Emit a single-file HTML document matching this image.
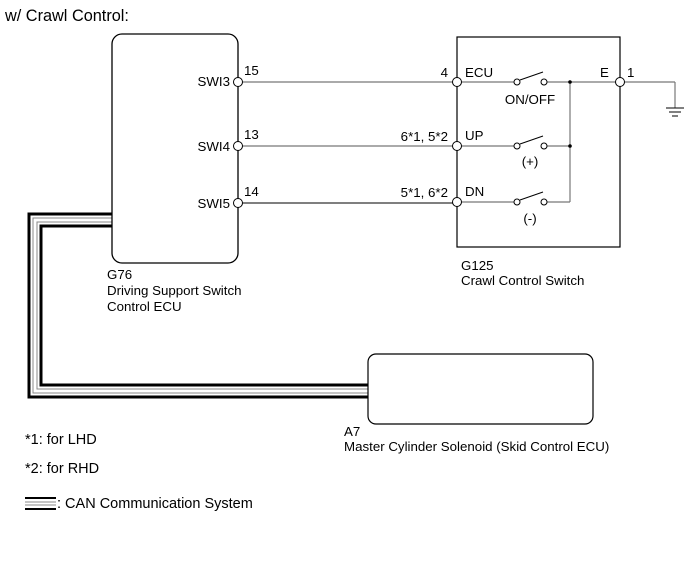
<!DOCTYPE html>
<html><head><meta charset="utf-8"><style>
body{margin:0;background:#fff}
svg{display:block}
text{font-family:"Liberation Sans",Arial,sans-serif;font-size:13.3px;fill:#000}
</style></head><body>
<svg width="691" height="564" viewBox="0 0 691 564" xmlns="http://www.w3.org/2000/svg">
<text x="5" y="21" style="font-size:16.3px">w/ Crawl Control:</text>
<!-- CAN bus -->
<g fill="none">
<path d="M112 214 H29 V397 H368" stroke="#000" stroke-width="3"/>
<path d="M112 218 H33 V393 H368" stroke="#888" stroke-width="1"/>
<path d="M112 222 H37 V389 H368" stroke="#888" stroke-width="1"/>
<path d="M112 226 H41 V385 H368" stroke="#000" stroke-width="3"/>
</g>
<!-- G76 -->
<rect x="112" y="34" width="126" height="229" rx="10" fill="#fff" stroke="#000" stroke-width="1.3"/>
<text x="230" y="86" text-anchor="end">SWI3</text>
<text x="230" y="151" text-anchor="end">SWI4</text>
<text x="230" y="208" text-anchor="end">SWI5</text>
<text x="107" y="279">G76</text>
<text x="107" y="295">Driving Support Switch</text>
<text x="107" y="311">Control ECU</text>
<!-- wires -->
<g stroke="#777" stroke-width="1.2">
<line x1="238" y1="82" x2="457" y2="82"/>
<line x1="238" y1="146" x2="457" y2="146"/>
<line x1="238" y1="203" x2="457" y2="203" stroke="#333"/>
</g>
<text x="244" y="75">15</text>
<text x="244" y="139">13</text>
<text x="244" y="196">14</text>
<text x="448" y="77" text-anchor="end">4</text>
<text x="448" y="141" text-anchor="end">6*1, 5*2</text>
<text x="448" y="197" text-anchor="end">5*1, 6*2</text>
<!-- G125 -->
<rect x="457" y="37" width="163" height="210" fill="none" stroke="#000" stroke-width="1.2"/>
<text x="465" y="77">ECU</text>
<text x="465" y="140">UP</text>
<text x="465" y="196">DN</text>
<text x="600" y="77">E</text>
<text x="627" y="77">1</text>
<g stroke="#777" stroke-width="1.2" fill="none">
<line x1="457" y1="82" x2="514" y2="82"/>
<line x1="547" y1="82" x2="620" y2="82"/>
<line x1="457" y1="146" x2="514" y2="146"/>
<line x1="547" y1="146" x2="570" y2="146"/>
<line x1="457" y1="202" x2="514" y2="202"/>
<line x1="547" y1="202" x2="570" y2="202"/>
<line x1="570" y1="82" x2="570" y2="202"/>
<line x1="620" y1="82" x2="675" y2="82"/>
<line x1="675" y1="82" x2="675" y2="108"/>
</g>
<g stroke="#000" stroke-width="1" fill="none">
<line x1="520" y1="80" x2="543" y2="72"/>
<line x1="520" y1="144" x2="543" y2="136"/>
<line x1="520" y1="200" x2="543" y2="192"/>
<line x1="666" y1="108" x2="684" y2="108"/>
<line x1="669" y1="112" x2="681" y2="112"/>
<line x1="672" y1="116" x2="678" y2="116"/>
</g>
<g fill="#fff" stroke="#000" stroke-width="1">
<circle cx="517" cy="82" r="3"/><circle cx="544" cy="82" r="3"/>
<circle cx="517" cy="146" r="3"/><circle cx="544" cy="146" r="3"/>
<circle cx="517" cy="202" r="3"/><circle cx="544" cy="202" r="3"/>
<circle cx="238" cy="82" r="4.5"/><circle cx="238" cy="146" r="4.5"/><circle cx="238" cy="203" r="4.5"/>
<circle cx="457" cy="82" r="4.5"/><circle cx="457" cy="146" r="4.5"/><circle cx="457" cy="202" r="4.5"/>
<circle cx="620" cy="82" r="4.5"/>
</g>
<circle cx="570" cy="82" r="1.8"/><circle cx="570" cy="146" r="1.8"/>
<text x="530" y="104" text-anchor="middle">ON/OFF</text>
<text x="530" y="166" text-anchor="middle">(+)</text>
<text x="530" y="223" text-anchor="middle">(-)</text>
<text x="461" y="270">G125</text>
<text x="461" y="285">Crawl Control Switch</text>
<!-- A7 -->
<rect x="368" y="354" width="225" height="70" rx="8" fill="#fff" stroke="#000" stroke-width="1.2"/>
<text x="344" y="436">A7</text>
<text x="344" y="451">Master Cylinder Solenoid (Skid Control ECU)</text>
<!-- legend -->
<text x="25" y="444" style="font-size:14.5px">*1: for LHD</text>
<text x="25" y="473" style="font-size:14.5px">*2: for RHD</text>
<line x1="25" y1="498" x2="56" y2="498" stroke="#000" stroke-width="2"/>
<line x1="25" y1="502" x2="56" y2="502" stroke="#888" stroke-width="1"/>
<line x1="25" y1="505" x2="56" y2="505" stroke="#888" stroke-width="1"/>
<line x1="25" y1="509" x2="56" y2="509" stroke="#000" stroke-width="2"/>
<text x="57" y="508" style="font-size:14.5px">: CAN Communication System</text>
</svg>
</body></html>
